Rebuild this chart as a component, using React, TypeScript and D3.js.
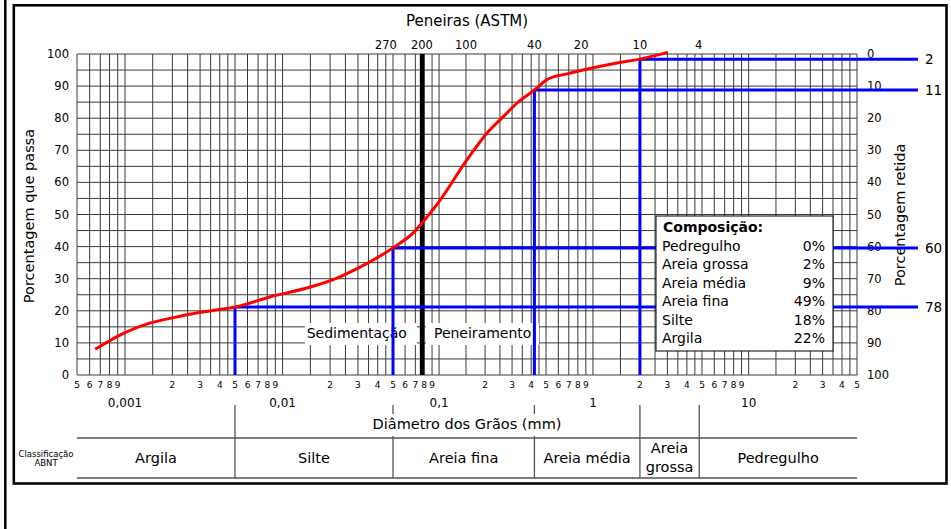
import React from 'react';
import * as d3 from 'd3';

// ---- data ----
const curveSize = [0.00065, 0.001, 0.0014, 0.002, 0.0029, 0.004, 0.005, 0.0083, 0.015, 0.0221, 0.0309, 0.05, 0.0675, 0.0834, 0.1, 0.152, 0.206, 0.262, 0.323, 0.42, 0.515, 0.682, 0.863, 1.425, 2.0, 3.03];
const curvePassing = [8, 13.2, 16, 17.8, 19.4, 20.4, 21.2, 24.3, 27.4, 30.2, 33.6, 39.6, 44.2, 49.2, 54, 67, 75.4, 80.4, 84.7, 88.8, 92.2, 93.8, 95, 97.2, 98.4, 100.5];

const boundSize = [2.0, 0.42, 0.05, 0.005];
const boundPassing = [98.4, 88.8, 39.6, 21.2];
const boundRetainedLabels = ['2', '11', '60', '78'];

const sieveLabels = ['270', '200', '100', '40', '20', '10', '4'];
const sieveSizes = [0.053, 0.075, 0.15, 0.42, 0.84, 2.0, 4.76];

const decadeLabels = ['0,001', '0,01', '0,1', '1', '10'];
const decadeValues = [0.001, 0.01, 0.1, 1, 10];

const passTicks = [0, 10, 20, 30, 40, 50, 60, 70, 80, 90, 100];
const retainedTicks = [0, 10, 20, 30, 40, 50, 60, 70, 80, 90, 100];

const compLabels = ['Pedregulho', 'Areia grossa', 'Areia média', 'Areia fina', 'Silte', 'Argila'];
const compValues = [0, 2, 9, 49, 18, 22];

const classNames = ['Argila', 'Silte', 'Areia fina', 'Areia média', 'Areia grossa', 'Pedregulho'];
const classBounds = [0.0005, 0.005, 0.05, 0.42, 2.0, 4.8, 50];

const gridMantissas = [1, 1.5, 2, 2.5, 3, 3.5, 4, 4.5, 5, 6, 7, 8, 9];

const FONT = 'DejaVu Sans, Verdana, sans-serif';

export default function App() {
  const W = 951, H = 529;
  const dMin = 0.0005, dMax = 50;
  const x = d3.scaleLog()
    .domain([0.0005, 0.001, 0.005, 0.05, 0.5, 5, 50])
    .range([77, 125, 235, 393, 546, 702, 857]);
  const y = d3.scaleLinear().domain([0, 100]).range([375, 54]);
  const X0 = x(dMin), X1 = x(dMax);

  // vertical grid values
  const gridVals: { v: number; m: number }[] = [];
  for (let e = -4; e <= 1; e++) {
    for (const m of gridMantissas) {
      const v = +(m * Math.pow(10, e)).toPrecision(6);
      if (v >= dMin * 0.9999 && v <= dMax * 1.0001) gridVals.push({ v, m });
    }
  }
  const hGrid = d3.range(0, 101, 5);

  const idx = d3.range(curveSize.length);
  const linePath = d3.line<number>()
    .x(i => x(curveSize[i]))
    .y(i => y(curvePassing[i]))
    .curve(d3.curveMonotoneX)(idx) || '';

  const x200 = x(sieveSizes[1]);
  // thick #200 line drawn so that it also hides the neighbouring 0.08 grid line, as in the reference
  const x200Line = (x(sieveSizes[1]) + x(0.08)) / 2;
  const blueEnd = 918;
  const gridColor = '#3a3a3a';

  return (
    <svg width={W} height={H} style={{ position: 'absolute', left: 0, top: 0, background: '#fff' }} fontFamily={FONT}>
      <rect x={0} y={0} width={W} height={H} fill="#fff" />
      {/* frame */}
      <line x1={5.3} y1={0} x2={5.3} y2={H} stroke="#000" strokeWidth={2.5} />
      <rect x={13.8} y={5.3} width={932.7} height={478.2} fill="none" stroke="#000" strokeWidth={2.6} />

      {/* title */}
      <text x={467} y={26} fontSize={15} textAnchor="middle">Peneiras (ASTM)</text>
      {sieveLabels.map((s, i) => (
        <text key={s} x={x(sieveSizes[i]) + (i === 0 ? -11 : i === 1 ? 2 : 0)} y={49} fontSize={11.5} textAnchor="middle">{s}</text>
      ))}

      {/* grid */}
      <g stroke={gridColor} strokeWidth={1}>
        {hGrid.map(v => (
          <line key={'h' + v} x1={X0} x2={X1} y1={y(v)} y2={y(v)} />
        ))}
        {gridVals.map(g => (
          <line key={'v' + g.v} x1={x(g.v)} x2={x(g.v)} y1={y(0)} y2={y(100)} />
        ))}
      </g>
      {/* #200 thick line */}
      <line x1={x200Line} x2={x200Line} y1={y(0)} y2={y(100)} stroke="#000" strokeWidth={4.5} />

      {/* sedimentação / peneiramento labels */}
      <rect x={x200 - 115} y={323} width={112} height={22} fill="#fff" />
      <rect x={x200 + 6} y={323} width={113} height={22} fill="#fff" />
      <text x={x200 - 13} y={338} fontSize={14} textAnchor="end">Sedimentação</text>
      <text x={x200 + 14} y={338} fontSize={14}>Peneiramento</text>

      {/* left ticks */}
      {passTicks.map(t => (
        <text key={'l' + t} x={69} y={y(t)} fontSize={11.5} textAnchor="end" dominantBaseline="central">{t}</text>
      ))}
      {/* right ticks */}
      {retainedTicks.map(t => (
        <text key={'r' + t} x={867} y={y(100 - t)} fontSize={11.5} dominantBaseline="central">{t}</text>
      ))}

      {/* axis labels */}
      <text transform={`translate(29,216) rotate(-90)`} fontSize={14.5} textAnchor="middle" dominantBaseline="central">Porcentagem que passa</text>
      <text transform={`translate(900,215) rotate(-90)`} fontSize={14.5} textAnchor="middle" dominantBaseline="central">Porcentagem retida</text>

      {/* blue boundary lines */}
      <g stroke="#0000ff" strokeWidth={3} fill="none">
        {boundSize.map((s, i) => (
          <g key={'b' + i}>
            <line x1={x(s)} x2={x(s)} y1={y(boundPassing[i])} y2={y(0)} />
            <line x1={x(s)} x2={blueEnd} y1={y(boundPassing[i])} y2={y(boundPassing[i])} />
          </g>
        ))}
      </g>
      {boundRetainedLabels.map((l, i) => (
        <text key={'bl' + i} x={925} y={y(boundPassing[i])} fontSize={13.5} dominantBaseline="central">{l}</text>
      ))}

      {/* curve */}
      <path d={linePath} fill="none" stroke="#ff0000" strokeWidth={3} strokeLinecap="butt" />

      {/* composition box */}
      <rect x={656} y={216} width={177} height={135} fill="#fff" stroke="#000" strokeWidth={1} />
      <text x={663} y={232} fontSize={14} fontWeight="bold">Composição:</text>
      {compLabels.map((c, i) => (
        <g key={c}>
          <text x={662} y={251 + i * 18.4} fontSize={14}>{c}</text>
          <text x={825} y={251 + i * 18.4} fontSize={14} textAnchor="end">{compValues[i]}%</text>
        </g>
      ))}

      {/* bottom minor tick labels */}
      {gridVals.filter(g => Number.isInteger(g.m) && g.m !== 1).map(g => (
        <text key={'tl' + g.v} x={x(g.v)} y={387.5} fontSize={9} textAnchor="middle">{g.m}</text>
      ))}
      {decadeLabels.map((l, i) => (
        <text key={l} x={x(decadeValues[i])} y={406.5} fontSize={12} textAnchor="middle">{l}</text>
      ))}

      {/* classification table */}
      <g stroke="#555" strokeWidth={1.3}>
        <line x1={X0} x2={X1} y1={438} y2={438} />
        <line x1={X0} x2={X1} y1={478} y2={478} />
        {classBounds.slice(1, -1).map(b => (
          <line key={'cb' + b} x1={x(b)} x2={x(b)} y1={405} y2={478} />
        ))}
      </g>
      <rect x={362} y={414} width={210} height={22} fill="#fff" />
      <text x={467} y={429} fontSize={14.5} textAnchor="middle">Diâmetro dos Grãos (mm)</text>
      <text x={46} y={457} fontSize={8.5} textAnchor="middle">Classificação</text>
      <text x={46} y={466} fontSize={8.5} textAnchor="middle">ABNT</text>
      {classNames.map((c, i) => {
        const cx = (x(classBounds[i]) + x(classBounds[i + 1])) / 2;
        const parts = c === 'Areia grossa' ? ['Areia', 'grossa'] : [c];
        return parts.length === 1 ? (
          <text key={c} x={cx} y={463} fontSize={14.5} textAnchor="middle">{c}</text>
        ) : (
          <g key={c}>
            <text x={cx} y={453} fontSize={14.5} textAnchor="middle">{parts[0]}</text>
            <text x={cx} y={472} fontSize={14.5} textAnchor="middle">{parts[1]}</text>
          </g>
        );
      })}
    </svg>
  );
}
